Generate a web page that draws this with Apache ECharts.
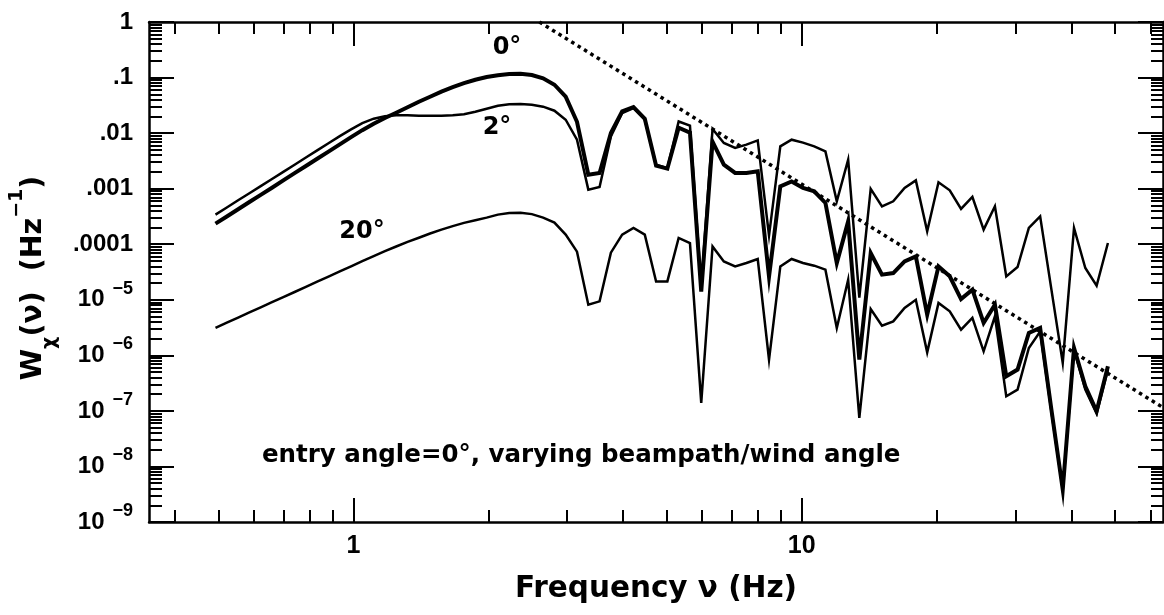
<!DOCTYPE html>
<html>
<head>
<meta charset="utf-8">
<script src="https://cdn.jsdelivr.net/npm/echarts@6/dist/echarts.min.js"></script>
<style>
  html, body { margin: 0; padding: 0; background: #fff; }
  #chart { width: 1164px; height: 615px; }
</style>
</head>
<body>
<div id="chart"></div>
<script>
// =====================
// Data
// =====================
const FREQ = [
  0.4925, 0.5220, 0.5532, 0.5862, 0.6213, 0.6584, 0.6977, 0.7394, 0.7836, 0.8304,
  0.8800, 0.9326, 0.9883, 1.047, 1.110, 1.176, 1.246, 1.321, 1.400, 1.483,
  1.572, 1.666, 1.765, 1.871, 1.983, 2.101, 2.227, 2.360, 2.501, 2.650,
  2.809, 2.976, 3.154, 3.343, 3.542, 3.754, 3.978, 4.216, 4.468, 4.735,
  5.017, 5.317, 5.635, 5.971, 6.328, 6.706, 7.107, 7.531, 7.981, 8.458,
  8.963, 9.499, 10.07, 10.67, 11.30, 11.98, 12.70, 13.45, 14.26, 15.11,
  16.01, 16.97, 17.98, 19.06, 20.20, 21.40, 22.68, 24.04, 25.47, 26.99,
  28.61, 30.32, 32.13, 34.05, 36.08, 38.24, 40.52, 42.94, 45.51, 48.23
]

// wind angle 0 deg (thick)
const W_0DEG = [
  2.35e-4, 3.16e-4, 4.26e-4, 5.75e-4, 7.74e-4, 1.04e-3, 1.41e-3, 1.90e-3, 2.56e-3, 3.45e-3,
  4.65e-3, 6.27e-3, 8.45e-3, 1.13e-2, 1.48e-2, 1.87e-2, 2.33e-2, 2.92e-2, 3.67e-2, 4.52e-2,
  5.56e-2, 6.70e-2, 7.91e-2, 9.14e-2, 0.102, 0.110, 0.116, 0.117, 0.111, 9.72e-2,
  7.43e-2, 4.52e-2, 1.60e-2, 1.79e-3, 1.92e-3, 1.00e-2, 2.46e-2, 2.95e-2, 1.82e-2, 2.59e-3,
  2.29e-3, 1.25e-2, 1.02e-2, 1.40e-5, 7.00e-3, 2.70e-3, 1.92e-3, 1.92e-3, 2.05e-3, 2.61e-5,
  1.10e-3, 1.35e-3, 1.03e-3, 8.95e-4, 5.54e-4, 4.59e-5, 2.58e-4, 8.38e-7, 6.95e-5, 2.83e-5,
  3.03e-5, 4.91e-5, 6.04e-5, 5.40e-6, 3.99e-5, 2.64e-5, 1.03e-5, 1.52e-5, 3.83e-6, 8.17e-6,
  4.20e-7, 5.54e-7, 2.53e-6, 3.11e-6, 1.05e-7, 3.83e-9, 1.36e-6, 2.77e-7, 9.85e-8, 6.35e-7
]

// wind angle 2 deg
const W_2DEG = [
  3.41e-4, 4.57e-4, 6.17e-4, 8.27e-4, 1.11e-3, 1.49e-3, 2.01e-3, 2.70e-3, 3.63e-3, 4.89e-3,
  6.56e-3, 8.81e-3, 1.17e-2, 1.51e-2, 1.82e-2, 2.01e-2, 2.10e-2, 2.10e-2, 2.06e-2, 2.05e-2,
  2.06e-2, 2.10e-2, 2.19e-2, 2.43e-2, 2.75e-2, 3.11e-2, 3.31e-2, 3.33e-2, 3.24e-2, 2.99e-2,
  2.53e-2, 1.74e-2, 7.62e-3, 9.61e-4, 1.07e-3, 8.73e-3, 2.30e-2, 2.83e-2, 1.74e-2, 2.70e-3,
  2.34e-3, 1.62e-2, 1.36e-2, 1.79e-5, 1.19e-2, 6.64e-3, 5.40e-3, 6.19e-3, 7.40e-3, 1.43e-4,
  5.77e-3, 7.62e-3, 6.73e-3, 5.77e-3, 4.69e-3, 5.92e-4, 3.32e-3, 1.09e-5, 9.89e-4, 4.81e-4,
  5.92e-4, 1.03e-3, 1.41e-3, 1.71e-4, 1.30e-3, 9.33e-4, 4.32e-4, 7.10e-4, 1.83e-4, 4.81e-4,
  2.64e-5, 3.89e-5, 1.96e-4, 3.18e-4, 1.52e-5, 7.31e-7, 1.96e-4, 3.73e-5, 1.79e-5, 1.05e-4
]

// wind angle 20 deg
const W_20DEG = [
  3.11e-6, 3.88e-6, 4.79e-6, 5.92e-6, 7.31e-6, 9.06e-6, 1.12e-5, 1.38e-5, 1.71e-5, 2.12e-5,
  2.61e-5, 3.24e-5, 4.01e-5, 4.95e-5, 6.11e-5, 7.49e-5, 9.10e-5, 1.10e-4, 1.31e-4, 1.56e-4,
  1.83e-4, 2.12e-4, 2.42e-4, 2.71e-4, 3.01e-4, 3.41e-4, 3.66e-4, 3.70e-4, 3.48e-4, 3.01e-4,
  2.45e-4, 1.49e-4, 7.34e-5, 8.17e-6, 9.37e-6, 7.04e-5, 1.49e-4, 1.96e-4, 1.49e-4, 2.14e-5,
  2.14e-5, 1.30e-4, 1.05e-4, 1.39e-7, 9.14e-5, 4.91e-5, 3.99e-5, 4.59e-5, 5.42e-5, 8.38e-7,
  3.99e-5, 5.42e-5, 4.59e-5, 4.11e-5, 3.48e-5, 3.11e-6, 2.30e-5, 7.49e-8, 6.84e-6, 3.42e-6,
  4.09e-6, 7.13e-6, 1.00e-5, 1.13e-6, 8.77e-6, 6.19e-6, 2.90e-6, 4.71e-6, 1.18e-6, 5.03e-6,
  1.83e-7, 2.42e-7, 1.36e-6, 2.67e-6, 9.72e-8, 3.83e-9, 1.27e-6, 2.42e-7, 8.95e-8, 5.54e-7
]

// dotted power-law guide, end points
const SLOPE_LINE = [[2.6, 1], [64, 1.15e-7]]

// ticks
const X_MAJOR = [1, 10]
const X_LABELS = ["1", "10"]
const X_MINOR = [0.4, 0.5, 0.6, 0.7, 0.8, 0.9, 2, 3, 4, 5, 6, 7, 8, 9, 20, 30, 40, 50, 60]
const Y_MAJOR = [1, 0.1, 0.01, 0.001, 1e-4, 1e-5, 1e-6, 1e-7, 1e-8, 1e-9]
const Y_LABELS = ["1", ".1", ".01", ".001", ".0001", "10^−5", "10^−6", "10^−7", "10^−8", "10^−9"]
const Y_MINOR_MANT = [2, 3, 4, 5, 6, 7, 8, 9]


// =====================
// Helpers
// =====================
const FONT = '"DejaVu Sans", "Liberation Sans", sans-serif'
const NUM_FONT = '"Liberation Sans", Arial, sans-serif'

const Y_MINOR = []
Y_MAJOR.slice(1).forEach(d => {
  Y_MINOR_MANT.forEach(m => Y_MINOR.push(m * d))
})

function pickLabel(vals, labels, v) {
  const i = vals.findIndex(t => Math.abs(Math.log10(t) - Math.log10(v)) < 1e-6)
  return i < 0 ? "" : labels[i]
}

function yLabel(v) {
  const s = pickLabel(Y_MAJOR, Y_LABELS, v)
  if (s.includes("^")) {
    const [b, e] = s.split("^")
    return `{b|${b}}{e|${e}}`
  }
  return `{b|${s}}`
}

function logAxis(extra) {
  return Object.assign({
    type: "log",
    logBase: 10,
    splitLine: { show: false },
    minorTick: { show: false },
    axisLine: { show: false },
    axisLabel: { show: false }
  }, extra)
}

const X_RANGE = { min: 0.35, max: 64 }
const Y_RANGE = { min: 1e-9, max: 1 }
const AXIS_LINE = { show: true, onZero: false, lineStyle: { color: "#000", width: 2.5 } }
const TICK_STYLE = { color: "#000", width: 2 }

const toPairs = ys => FREQ.map((f, i) => [f, ys[i]])


// =====================
// Chart
// =====================
const chart = echarts.init(document.getElementById("chart"), null, { renderer: "canvas" })

const option = {
  animation: false,
  backgroundColor: "#fff",

  grid: { left: 146, top: 22, width: 1017, height: 500 },

  xAxis: [
    logAxis({
      ...X_RANGE,
      position: "bottom",
      axisLine: AXIS_LINE,
      axisTick: { show: true, inside: true, length: 24, customValues: X_MAJOR, lineStyle: TICK_STYLE },
      axisLabel: {
        show: true,
        customValues: X_MAJOR,
        margin: 12,
        color: "#000",
        fontFamily: NUM_FONT,
        fontWeight: "bold",
        fontSize: 25,
        formatter: v => pickLabel(X_MAJOR, X_LABELS, v)
      },
      name: "Frequency ν (Hz)",
      nameLocation: "middle",
      nameGap: 49,
      nameTextStyle: { color: "#000", fontFamily: FONT, fontWeight: "bold", fontSize: 29.5, lineHeight: 36 }
    }),
    logAxis({
      ...X_RANGE,
      position: "bottom",
      axisTick: { show: true, inside: true, length: 12, customValues: X_MINOR, lineStyle: TICK_STYLE }
    }),
    logAxis({
      ...X_RANGE,
      position: "top",
      axisLine: AXIS_LINE,
      axisTick: { show: true, inside: true, length: 24, customValues: X_MAJOR, lineStyle: TICK_STYLE }
    }),
    logAxis({
      ...X_RANGE,
      position: "top",
      axisTick: { show: true, inside: true, length: 12, customValues: X_MINOR, lineStyle: TICK_STYLE }
    })
  ],

  yAxis: [
    logAxis({
      ...Y_RANGE,
      position: "left",
      axisLine: AXIS_LINE,
      axisTick: { show: true, inside: true, length: 25, customValues: Y_MAJOR, lineStyle: TICK_STYLE },
      axisLabel: {
        show: true,
        customValues: Y_MAJOR,
        margin: 16,
        formatter: yLabel,
        rich: {
          b: { color: "#000", fontFamily: NUM_FONT, fontWeight: "bold", fontSize: 24, lineHeight: 40 },
          e: { color: "#000", fontFamily: NUM_FONT, fontWeight: "bold", fontSize: 18, lineHeight: 16,
               verticalAlign: "top", padding: [0, 0, 0, 8] }
        }
      },
      name: "{b|W}{sub|χ}{b|(ν)  (Hz}{sup|−1}{b|)}",
      nameLocation: "middle",
      nameGap: 89,
      nameTextStyle: {
        padding: [0, 12, 0, 0],
        rich: {
          b: { color: "#000", fontFamily: FONT, fontWeight: "bold", fontSize: 28.5, lineHeight: 52 },
          sub: { color: "#000", fontFamily: FONT, fontWeight: "bold", fontSize: 19, lineHeight: 18,
                 verticalAlign: "bottom" },
          sup: { color: "#000", fontFamily: FONT, fontWeight: "bold", fontSize: 19, lineHeight: 18,
                 verticalAlign: "top" }
        }
      }
    }),
    logAxis({
      ...Y_RANGE,
      position: "left",
      axisTick: { show: true, inside: true, length: 13, customValues: Y_MINOR, lineStyle: TICK_STYLE }
    }),
    logAxis({
      ...Y_RANGE,
      position: "right",
      axisLine: AXIS_LINE,
      axisTick: { show: true, inside: true, length: 25, customValues: Y_MAJOR, lineStyle: TICK_STYLE }
    }),
    logAxis({
      ...Y_RANGE,
      position: "right",
      axisTick: { show: true, inside: true, length: 12, customValues: Y_MINOR, lineStyle: TICK_STYLE }
    })
  ],

  series: [
    {
      name: "0°",
      type: "line",
      data: toPairs(W_0DEG),
      symbol: "none",
      z: 4,
      lineStyle: { color: "#000", width: 4, join: "miter" }
    },
    {
      name: "2°",
      type: "line",
      data: toPairs(W_2DEG),
      symbol: "none",
      z: 3,
      lineStyle: { color: "#000", width: 2.5, join: "miter" }
    },
    {
      name: "20°",
      type: "line",
      data: toPairs(W_20DEG),
      symbol: "none",
      z: 3,
      lineStyle: { color: "#000", width: 2.5, join: "miter" }
    },
    {
      name: "slope",
      type: "line",
      data: SLOPE_LINE,
      symbol: "none",
      z: 2,
      lineStyle: { color: "#000", width: 3.5, type: [3.5, 4] }
    }
  ],

  graphic: [
    { type: "text", x: 507, y: 48, style: { text: "0°", fill: "#000", font: `bold 24px ${FONT}`, align: "center", verticalAlign: "middle" } },
    { type: "text", x: 497, y: 128, style: { text: "2°", fill: "#000", font: `bold 24px ${FONT}`, align: "center", verticalAlign: "middle" } },
    { type: "text", x: 362, y: 232, style: { text: "20°", fill: "#000", font: `bold 24px ${FONT}`, align: "center", verticalAlign: "middle" } },
    { type: "text", x: 262, y: 456, style: { text: "entry angle=0°, varying beampath/wind angle", fill: "#000", font: `bold 24.5px ${FONT}`, align: "left", verticalAlign: "middle" } }
  ]
}

chart.setOption(option)
</script>
</body>
</html>
